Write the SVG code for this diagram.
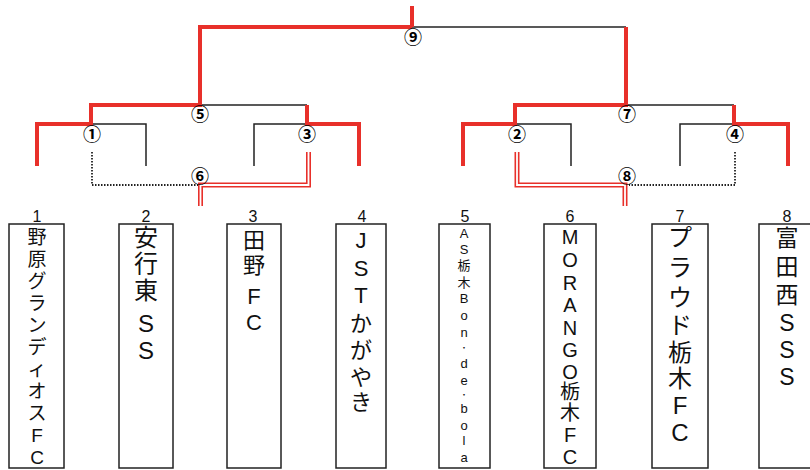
<svg xmlns="http://www.w3.org/2000/svg" width="810" height="470" viewBox="0 0 810 470">
<style>
.red{fill:none;stroke:#e8302a;stroke-width:4;stroke-linecap:butt;stroke-linejoin:miter}
.blk{fill:none;stroke:#222;stroke-width:1.5}
.dot{fill:none;stroke:#222;stroke-width:1.8;stroke-dasharray:1.5 1.5}
.dbl{fill:none;stroke:#e8302a;stroke-width:5}
.dblin{fill:none;stroke:#fff;stroke-width:1.8}
.box{fill:#fff;stroke:#222;stroke-width:1.5}
.t{font-family:"Liberation Sans","Noto Sans CJK JP",sans-serif;fill:#111;text-anchor:middle}
.num{font-family:"Liberation Sans","Noto Sans CJK JP",sans-serif;fill:#111;text-anchor:middle;font-size:16px}
.mc{font-family:"Noto Sans CJK JP","DejaVu Sans",sans-serif;fill:#000;text-anchor:middle;font-size:18px;font-weight:bold;dominant-baseline:central}
.sm{font-size:8px}
</style>
<rect width="810" height="470" fill="#fff"/>
<g id="connectors">
<path class="blk" d="M412,27 H626"/>
<path class="blk" d="M200,105 H307"/>
<path class="blk" d="M91,124 H146 V166"/>
<path class="blk" d="M307,124 H254 V166"/>
<path class="blk" d="M626,105 H734"/>
<path class="blk" d="M515,124 H571 V166"/>
<path class="blk" d="M734,124 H680 V166"/>
<path class="red" d="M412,6 V27"/>
<path class="red" d="M412,27 H200 V105 H91 V124 H37 V166"/>
<path class="red" d="M307,105 V124 H359 V166"/>
<path class="red" d="M626,27 V105 H515 V124 H463 V166"/>
<path class="red" d="M734,105 V124 H788 V166"/>
<path class="dot" d="M92,152 V185 H198"/>
<path class="dot" d="M735,152 V185 H629"/>
<path class="dbl" d="M308.5,152 V185 H200.5 V206"/>
<path class="dblin" d="M308.5,152 V185 H200.5 V206"/>
<path class="dbl" d="M517,152 V185 H625 V206"/>
<path class="dblin" d="M517,152 V185 H625 V206"/>
</g>
<g id="match9"><text class="mc" x="413" y="36">⑨</text></g>
<g id="match5"><text class="mc" x="200" y="113">⑤</text></g>
<g id="match7"><text class="mc" x="627" y="113">⑦</text></g>
<g id="match1"><text class="mc" x="92" y="133">①</text></g>
<g id="match3"><text class="mc" x="307" y="133">③</text></g>
<g id="match2"><text class="mc" x="517" y="133">②</text></g>
<g id="match4"><text class="mc" x="735" y="133">④</text></g>
<g id="match6"><text class="mc" x="200" y="175">⑥</text></g>
<g id="match8"><text class="mc" x="627" y="175">⑧</text></g>
<g id="team1">
<text class="num" x="37" y="222">1</text>
<rect class="box" x="9" y="224" width="55" height="244"/>
<text class="t" style="font-size:19px"><tspan x="37" y="244">野</tspan><tspan x="37" y="266">原</tspan><tspan x="37" y="288">グ</tspan><tspan x="37" y="310">ラ</tspan><tspan x="37" y="332">ン</tspan><tspan x="37" y="354">デ</tspan><tspan x="37" y="376">ィ</tspan><tspan x="37" y="398">オ</tspan><tspan x="37" y="420">ス</tspan><tspan x="37" y="442">F</tspan><tspan x="37" y="464">C</tspan></text>
</g>
<g id="team2">
<text class="num" x="146" y="222">2</text>
<rect class="box" x="119" y="224" width="54" height="244"/>
<text class="t" style="font-size:24px"><tspan x="146" y="246">安</tspan><tspan x="146" y="272">行</tspan><tspan x="146" y="299">東</tspan><tspan x="146" y="332">S</tspan><tspan x="146" y="359">S</tspan></text>
</g>
<g id="team3">
<text class="num" x="253" y="222">3</text>
<rect class="box" x="227" y="224" width="54" height="244"/>
<text class="t" style="font-size:22px"><tspan x="254" y="248">田</tspan><tspan x="254" y="273">野</tspan><tspan x="254" y="304">F</tspan><tspan x="254" y="330">C</tspan></text>
</g>
<g id="team4">
<text class="num" x="362" y="222">4</text>
<rect class="box" x="336" y="224" width="50" height="244"/>
<text class="t" style="font-size:22px"><tspan x="361" y="248">J</tspan><tspan x="361" y="276">S</tspan><tspan x="361" y="303">T</tspan><tspan x="361" y="331">か</tspan><tspan x="361" y="358">が</tspan><tspan x="361" y="385">や</tspan><tspan x="361" y="410">き</tspan></text>
</g>
<g id="team5">
<text class="num" x="465" y="222">5</text>
<rect class="box" x="439" y="224" width="51" height="244"/>
<text class="t" style="font-size:13px"><tspan x="464" y="238">A</tspan><tspan x="464" y="254">S</tspan><tspan x="464" y="270">栃</tspan><tspan x="464" y="287">木</tspan><tspan x="464" y="303">B</tspan><tspan x="464" y="320">o</tspan><tspan x="464" y="337">n</tspan><tspan class="sm" x="464" y="351">・</tspan><tspan x="464" y="368">d</tspan><tspan x="464" y="385">e</tspan><tspan class="sm" x="464" y="398">・</tspan><tspan x="464" y="413">b</tspan><tspan x="464" y="430">o</tspan><tspan x="464" y="445">l</tspan><tspan x="464" y="462">a</tspan></text>
</g>
<g id="team6">
<text class="num" x="570" y="222">6</text>
<rect class="box" x="544" y="224" width="52" height="244"/>
<text class="t" style="font-size:20px"><tspan x="570" y="244">M</tspan><tspan x="570" y="267">O</tspan><tspan x="570" y="290">R</tspan><tspan x="570" y="312">A</tspan><tspan x="570" y="335">N</tspan><tspan x="570" y="357">G</tspan><tspan x="570" y="379">O</tspan><tspan x="570" y="399">栃</tspan><tspan x="570" y="420">木</tspan><tspan x="570" y="442">F</tspan><tspan x="570" y="464">C</tspan></text>
</g>
<g id="team7">
<text class="num" x="680" y="222">7</text>
<rect class="box" x="652" y="224" width="56" height="244"/>
<text class="t" style="font-size:24px"><tspan x="680" y="246">プ</tspan><tspan x="680" y="276">ラ</tspan><tspan x="680" y="306">ウ</tspan><tspan x="680" y="334">ド</tspan><tspan x="680" y="361">栃</tspan><tspan x="680" y="387">木</tspan><tspan x="680" y="414">F</tspan><tspan x="680" y="441">C</tspan></text>
</g>
<g id="team8">
<text class="num" x="787" y="222">8</text>
<rect class="box" x="759" y="224" width="58" height="244"/>
<text class="t" style="font-size:23px"><tspan x="787" y="246">富</tspan><tspan x="787" y="275">田</tspan><tspan x="787" y="303">西</tspan><tspan x="787" y="331">S</tspan><tspan x="787" y="358">S</tspan><tspan x="787" y="385">S</tspan></text>
</g>
</svg>
